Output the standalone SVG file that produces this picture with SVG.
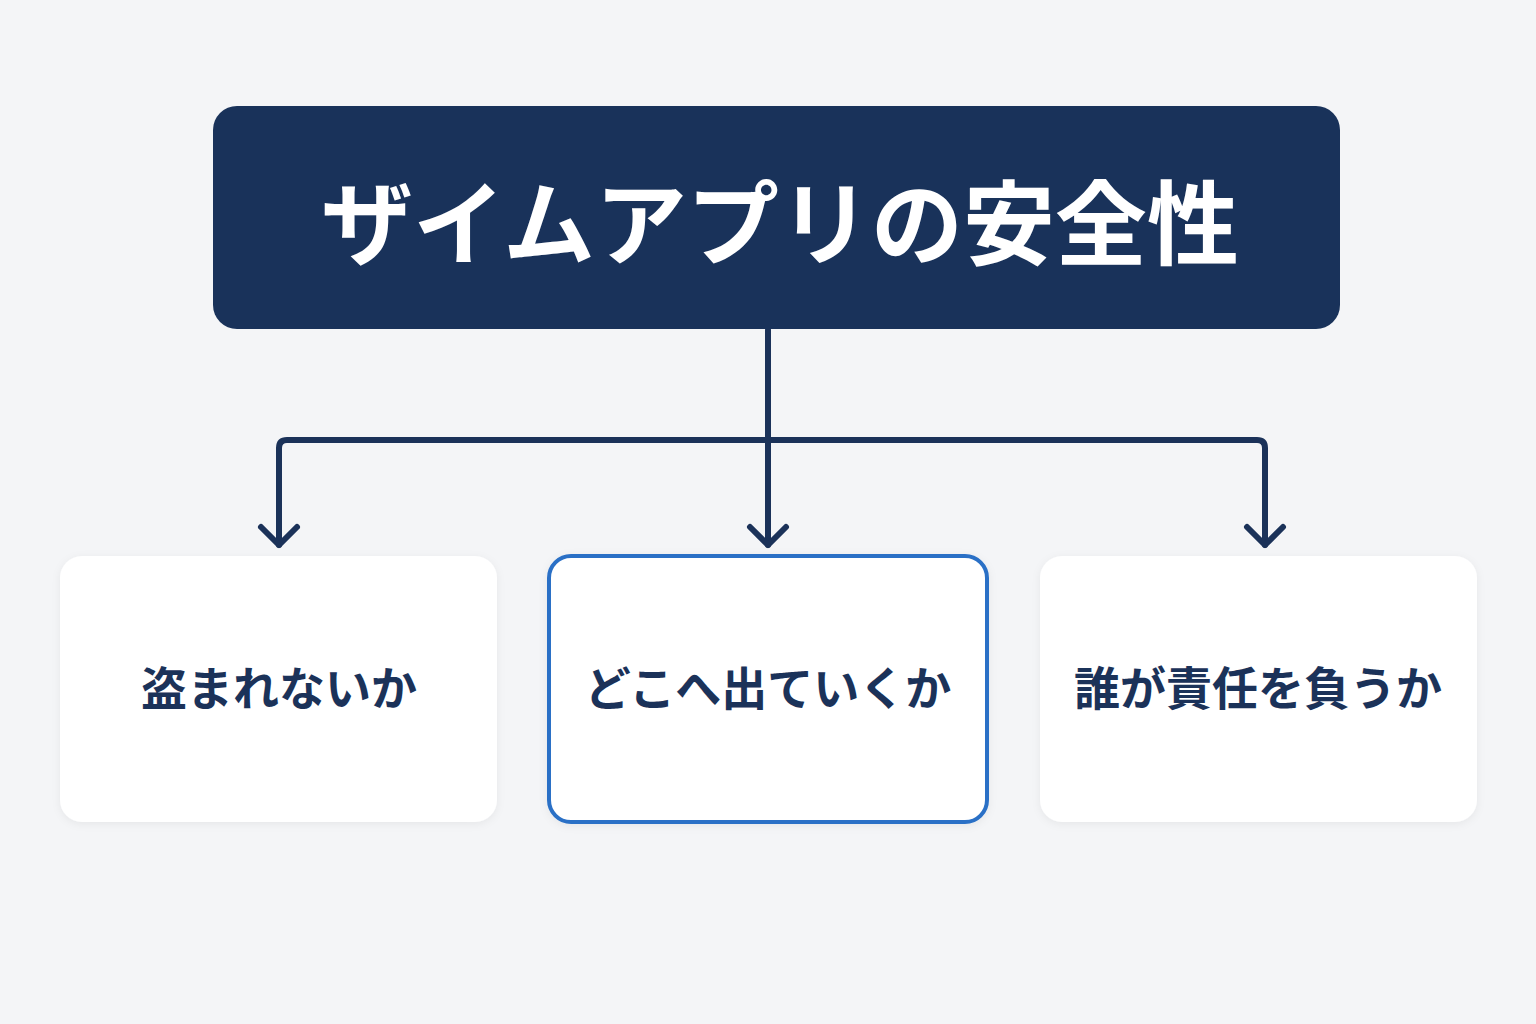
<svg xmlns="http://www.w3.org/2000/svg" width="1536" height="1024" viewBox="0 0 1536 1024">
<defs>
<style>
.card{fill:#ffffff;}
.lbl{font-family:"Noto Sans CJK JP","Noto Sans",sans-serif;font-weight:700;font-size:46px;fill:#1b3259;text-anchor:middle;}
.title{font-family:"Noto Sans CJK JP","Noto Sans",sans-serif;font-weight:700;font-size:92px;fill:#ffffff;text-anchor:middle;}
.ln{fill:none;stroke:#1b3259;stroke-width:6;stroke-linecap:round;stroke-linejoin:round;}
</style>
<filter id="sh" x="-10%" y="-10%" width="120%" height="130%"><feDropShadow dx="0" dy="2" stdDeviation="4" flood-color="#000" flood-opacity="0.06"/></filter>
</defs>
<rect width="1536" height="1024" fill="#f4f5f7"/>
<g id="connectors">
<path class="ln" d="M768 330 V545"/>
<path class="ln" d="M279 545 V448 Q279 440 287 440 H1257 Q1265 440 1265 448 V545"/>
<path class="ln" d="M261 527 L279 545 L297 527"/>
<path class="ln" d="M750 527 L768 545 L786 527"/>
<path class="ln" d="M1247 527 L1265 545 L1283 527"/>
</g>
<g id="root">
<rect x="213" y="106" width="1127" height="223" rx="24" fill="#19325a"/>
<text class="title" x="780" y="258">ザイムアプリの安全性</text>
</g>
<g id="n1">
<rect class="card" x="60" y="556" width="437" height="266" rx="22" filter="url(#sh)"/>
<text class="lbl" x="279" y="705">盗まれないか</text>
</g>
<g id="n2">
<rect class="card" x="549" y="556" width="438" height="266" rx="22" stroke="#2a70c6" stroke-width="4" filter="url(#sh)"/>
<text class="lbl" x="768" y="705">どこへ出ていくか</text>
</g>
<g id="n3">
<rect class="card" x="1040" y="556" width="437" height="266" rx="22" filter="url(#sh)"/>
<text class="lbl" x="1258" y="705">誰が責任を負うか</text>
</g>
</svg>
